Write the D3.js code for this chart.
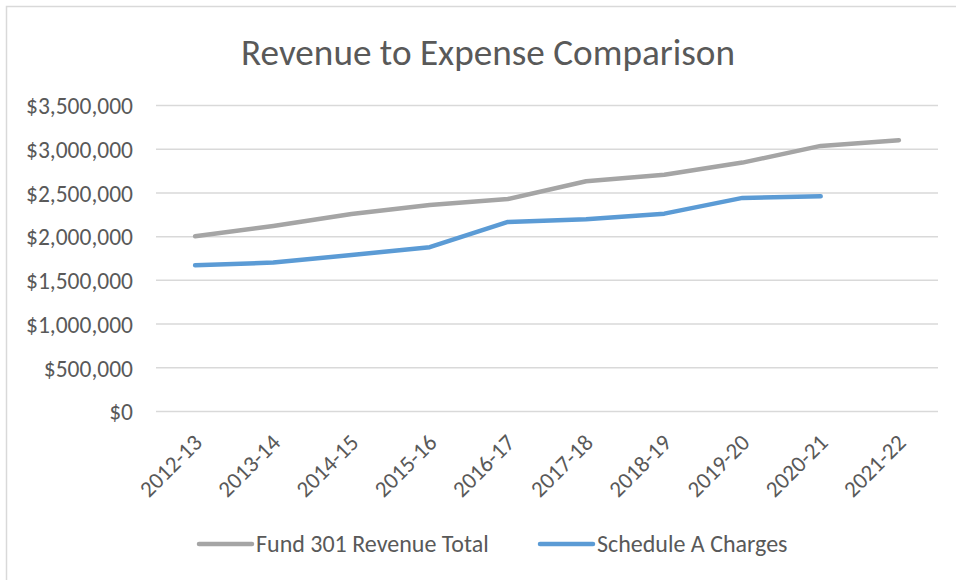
<!DOCTYPE html>
<html><head><meta charset="utf-8">
<script src="https://cdn.jsdelivr.net/npm/d3@7"></script>
<style>html,body{margin:0;padding:0;background:#fff;}svg{display:block;}</style>
</head><body>
<svg id="chart" width="956" height="580"></svg>
<script>
const categories = ["2012-13","2013-14","2014-15","2015-16","2016-17","2017-18","2018-19","2019-20","2020-21","2021-22"];
const revenueTotal = [2004000, 2122000, 2258000, 2363000, 2431000, 2634000, 2709000, 2847000, 3038000, 3103000];
const scheduleA = [1673000, 1703000, 1790000, 1879000, 2168000, 2199000, 2263000, 2443000, 2462000, null];
const yTicks = [0, 500000, 1000000, 1500000, 2000000, 2500000, 3000000, 3500000];
const seriesNames = ["Fund 301 Revenue Total", "Schedule A Charges"];
const seriesColors = ["#A5A5A5", "#5B9BD5"];
const title = "Revenue to Expense Comparison";

const svg = d3.select("#chart");
const font = "Calibri, Carlito, 'Open Sans', sans-serif";
const textColor = "#595959";

// frame
svg.append("rect").attr("x",6.5).attr("y",6.5).attr("width",1000).attr("height",1000)
  .attr("fill","none").attr("stroke","#D9D9D9").attr("stroke-width",1.5);

const x = d3.scaleBand().domain(categories).range([156, 938]);
const y = d3.scaleLinear().domain([0, 3500000]).range([411.5, 105.5]);

// gridlines
svg.append("g").selectAll("line").data(yTicks).join("line")
  .attr("x1",156).attr("x2",938)
  .attr("y1",d=>y(d)).attr("y2",d=>y(d))
  .attr("stroke","#D9D9D9").attr("stroke-width",1.5);

// y axis
const yAxis = d3.axisLeft(y).tickValues(yTicks).tickSize(0).tickPadding(0)
  .tickFormat(d => "$" + d3.format(",")(d));
const gy = svg.append("g").attr("transform","translate(133,0)").call(yAxis);
gy.select(".domain").remove();
gy.selectAll("text").attr("font-family",font).attr("font-size",23.5).attr("fill",textColor).attr("dy","0.35em");

// x axis
const xAxis = d3.axisBottom(x).tickSize(0).tickPadding(0);
const gx = svg.append("g").attr("transform","translate(0,411.5)").call(xAxis);
gx.select(".domain").remove();
gx.selectAll("text")
  .attr("font-family",font).attr("font-size",23).attr("fill",textColor)
  .attr("text-anchor","end").attr("dy",null).attr("y",0)
  .attr("transform","translate(-4,20) rotate(-45)")
  .attr("dominant-baseline","hanging");

// lines
const line = d3.line()
  .defined(d => d != null)
  .x((d,i) => x(categories[i]) + x.bandwidth()/2)
  .y(d => y(d));
[revenueTotal, scheduleA].forEach((s, k) => {
  svg.append("path").datum(s).attr("d", line)
    .attr("fill","none").attr("stroke",seriesColors[k]).attr("stroke-width",4.5)
    .attr("stroke-linecap","round").attr("stroke-linejoin","round");
});

// title
svg.append("text").attr("x",488).attr("y",65).attr("text-anchor","middle")
  .attr("font-family",font).attr("font-size",37.2).attr("fill",textColor).text(title);

// legend
const legendItems = [{x:197},{x:538}];
legendItems.forEach((it,k) => {
  const g = svg.append("g").attr("transform",`translate(${it.x},544)`);
  g.append("line").attr("x1",2).attr("x2",55).attr("y1",0).attr("y2",0)
    .attr("stroke",seriesColors[k]).attr("stroke-width",4.5).attr("stroke-linecap","round");
  g.append("text").attr("x",59).attr("y",0).attr("dy","0.35em")
    .attr("font-family",font).attr("font-size",24).attr("fill",textColor).text(seriesNames[k]);
});
</script>
</body></html>
